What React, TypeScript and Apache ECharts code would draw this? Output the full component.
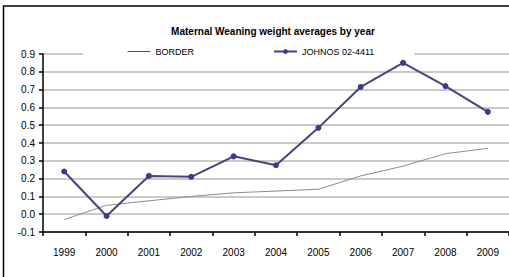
import React, { useEffect, useRef } from "react";
import * as echarts from "echarts";

const years = ["1999", "2000", "2001", "2002", "2003", "2004", "2005", "2006", "2007", "2008", "2009"];
const borderValues = [-0.03, 0.05, 0.075, 0.1, 0.12, 0.13, 0.14, 0.215, 0.27, 0.34, 0.37];
const johnosValues = [0.24, -0.01, 0.215, 0.21, 0.325, 0.275, 0.485, 0.715, 0.85, 0.72, 0.575];
const titleText = "Maternal Weaning weight averages by year";
const seriesNames = ["BORDER", "JOHNOS 02-4411"];

export default function App() {
  const ref = useRef<HTMLDivElement>(null);
  useEffect(() => {
    if (!ref.current) return;
    const chart = echarts.init(ref.current, null, { renderer: "svg" });
    const font = "'Liberation Sans Narrow', 'Liberation Sans', Arial, sans-serif";
    chart.setOption({
      animation: false,
      backgroundColor: "#ffffff",
      title: {
        text: titleText,
        left: 268,
        textAlign: "center",
        top: 21,
        textStyle: { fontFamily: font, fontSize: 10, fontWeight: "bold", color: "#000" },
      },
      legend: {
        left: 83,
        top: 47,
        padding: [0, 40, 0, 44],
        backgroundColor: "#ffffff",
        itemGap: 79,
        itemWidth: 23,
        itemHeight: 6,
        textStyle: { fontFamily: font, fontSize: 9, color: "#000" },
        data: [
          { name: seriesNames[0], itemStyle: { opacity: 0 }, lineStyle: { color: "#555555", width: 1 } },
          { name: seriesNames[1] },
        ],
      },
      grid: { left: 43, top: 54, right: -10, bottom: 45, containLabel: false },
      xAxis: {
        type: "category",
        data: years,
        boundaryGap: true,
        axisLine: { onZero: false, lineStyle: { color: "#000", width: 1.5 } },
        axisTick: { show: true, inside: false, length: 4, lineStyle: { color: "#000", width: 1.5 } },
        axisLabel: { fontFamily: font, fontSize: 10, color: "#000", margin: 15 },
      },
      yAxis: {
        type: "value",
        min: -0.1,
        max: 0.9,
        interval: 0.1,
        axisLine: { show: true, lineStyle: { color: "#000", width: 1.5 } },
        axisTick: { show: true, length: 4, lineStyle: { color: "#000", width: 1.5 } },
        axisLabel: {
          fontFamily: font,
          fontSize: 10,
          color: "#000",
          margin: 8,
          formatter: (v: number) => v.toFixed(1),
        },
        splitLine: { show: true, lineStyle: { color: "#b8b8b8", width: 1.5 } },
      },
      graphic: [
        {
          type: "rect",
          shape: { x: 3.5, y: 6, width: 540, height: 300 },
          style: { fill: "none", stroke: "#000", lineWidth: 1.5 },
          z: 100,
        },
      ],
      series: [
        {
          name: seriesNames[0],
          type: "line",
          data: borderValues,
          symbol: "none",
          lineStyle: { color: "#8c8c8c", width: 1 },
          itemStyle: { color: "#8c8c8c" },
        },
        {
          name: seriesNames[1],
          type: "line",
          data: johnosValues,
          symbol: "circle",
          symbolSize: 6,
          lineStyle: { color: "#45457a", width: 2 },
          itemStyle: { color: "#3a3a90" },
        },
      ],
    });
    return () => chart.dispose();
  }, []);
  return <div ref={ref} style={{ position: "fixed", left: 0, top: 0, width: 509, height: 277 }} />;
}
